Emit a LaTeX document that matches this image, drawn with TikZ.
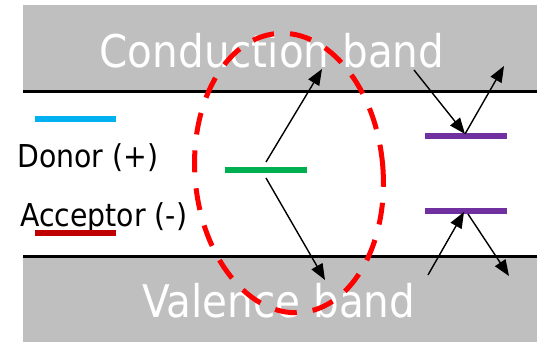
\documentclass[tikz,border=0pt]{standalone}
\usepackage{fontspec}
\setmainfont{DejaVu Sans Condensed}
\usetikzlibrary{arrows.meta}
\definecolor{donorblue}{HTML}{00B0F0}
\definecolor{accred}{HTML}{C00000}
\definecolor{defgreen}{HTML}{00B050}
\definecolor{trappurple}{HTML}{7030A0}
\begin{document}
\begin{tikzpicture}[x=1pt,y=-1pt,
  arr/.style={-{Triangle[length=16pt,width=12.5pt]},line width=1.4pt},
  level/.style={line width=5.5pt},
  edge/.style={line width=3pt},
  bandtext/.style={text=white,font=\fontsize{45}{50}\selectfont,anchor=base,inner sep=0pt},
  legtext/.style={font=\fontsize{31.5}{36}\selectfont,anchor=base west,inner sep=0pt}]

\useasboundingbox (0,0) rectangle (537,342);

% Bandas
\fill[gray!50] (23,5) rectangle (537,92);
\fill[gray!50] (23,256) rectangle (537,342);
\draw[edge] (23,92) -- (537,92);
\draw[edge] (23,256) -- (537,256);
\node[bandtext] (cband) at (272,68) {Conduction band};
\node[bandtext] (vband) at (279,317) {Valence band};

% Leyenda
\draw[level,donorblue] (35,119) -- (116,119);
\node[legtext] (donor) at (17,167) {Donor (+)};
\node[legtext] (acceptor) at (20,226) {Acceptor (-)};
\draw[level,accred] (35,233) -- (116,233);

% Niveles
\draw[level,defgreen] (225,170) -- (307,170);
\draw[level,trappurple] (425,136) -- (507,136);
\draw[level,trappurple] (425,211) -- (507,211);

% Elipse
\draw[red,line width=5pt,dash pattern=on 22pt off 16pt,rotate around={5:(289,173)}]
  (289,173) ellipse [x radius=94,y radius=140];

% Puntos de las flechas
\coordinate (gup) at (266,162);
\coordinate (gdown) at (266,178);
\coordinate (cbtip) at (322,69);
\coordinate (vbtip) at (325,280);
\coordinate (cbstart) at (414,70);
\coordinate (ptop) at (465,134);
\coordinate (cbend) at (504,66);
\coordinate (vbstart) at (428,275);
\coordinate (pbot) at (464,212);
\coordinate (pbot2) at (468,214);
\coordinate (vbend) at (509,276);

% Flechas
\draw[arr] (gup) -- (cbtip);
\draw[arr] (gdown) -- (vbtip);
\draw[arr] (cbstart) -- (ptop);
\draw[arr] (ptop) -- (cbend);
\draw[arr] (vbstart) -- (pbot);
\draw[arr] (pbot2) -- (vbend);

\end{tikzpicture}
\end{document}
